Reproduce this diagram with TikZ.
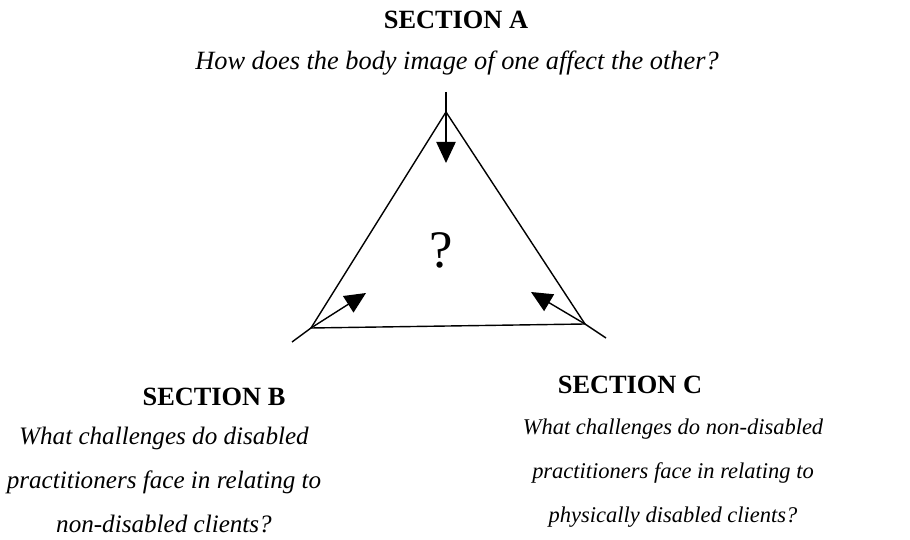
\documentclass[tikz,border=0pt]{standalone}
\usepackage{fontspec}
\setmainfont{Liberation Serif}
\usetikzlibrary{arrows.meta}
\tikzset{
  head/.style={font=\fontsize{15}{18}\selectfont\bfseries},
  question/.style={font=\fontsize{15}{25}\selectfont\itshape, align=center},
  pointer/.style={-{Triangle[length=12pt,width=11pt]}, line width=0.8pt},
}
\begin{document}
\begin{tikzpicture}[x=0.02cm, y=-0.02cm, line width=0.8pt]
  \useasboundingbox (0,0) rectangle (910,540);
  % vertices of the triangle
  \coordinate (top) at (446,112);
  \coordinate (bl) at (311,328);
  \coordinate (br) at (585,324);
  \coordinate (topend) at (446,92);
  \coordinate (blend) at (292,342);
  \coordinate (brend) at (606,338);
  \coordinate (toptip) at (446,163);
  \coordinate (bltip) at (366,293);
  \coordinate (brtip) at (531,292);
  \draw (top)--(bl)--(br)--cycle;
  \draw (topend)--(top);
  \draw (blend)--(bl);
  \draw (brend)--(br);
  \draw[pointer] (top)--(toptip);
  \draw[pointer] (bl)--(bltip);
  \draw[pointer] (br)--(brtip);
  \node[font=\fontsize{30}{30}\selectfont] (mid) at (441,250) {?};
  % texts
  \node[head] (secA) at (456,20) {SECTION A};
  \node[question] (qA) at (457,63) {How does the body image of one affect the other?};
  \node[head] (secB) at (214,397) {SECTION B};
  \node[question, font=\fontsize{14.3}{25}\selectfont\itshape, anchor=north] (qB) at (164,421) {What challenges do disabled\\practitioners face in relating to\\non-disabled clients?};
  \node[head] (secC) at (630,385) {SECTION C};
  \node[question, font=\fontsize{12.8}{25}\selectfont\itshape, anchor=north] (qC) at (673,412) {What challenges do non-disabled\\practitioners face in relating to\\physically disabled clients?};
\end{tikzpicture}
\end{document}
